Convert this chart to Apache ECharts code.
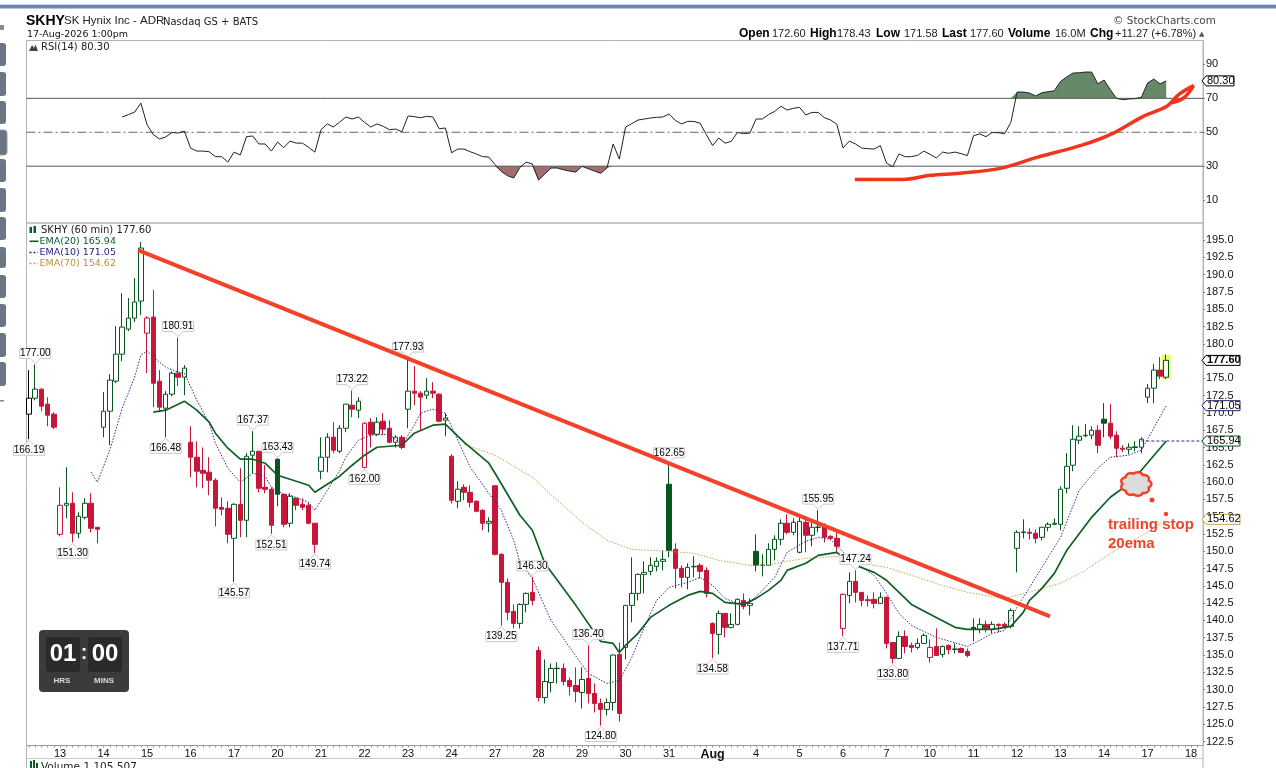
<!DOCTYPE html>
<html><head><meta charset="utf-8">
<style>html,body{margin:0;padding:0;background:#fff;overflow:hidden}#c{width:1276px;height:768px}</style>
<script src="https://cdn.jsdelivr.net/npm/echarts@6/dist/echarts.min.js"></script>
</head><body><div id="c"></div>
<script>
// ---- values ----
const opens=[169.82,172.13,173.44,171.27,169.82,152.45,156.65,156.94,152.6,154.91,156.94,153.47,167.94,170.25,174.59,178.5,182.12,183.71,186.17,181.54,183.86,174.59,170.69,172.71,175.75,175.17,165.77,163.6,161.71,161.43,160.27,156.36,156.22,151.87,156.79,154.48,163.89,164.46,159.25,158.96,163.31,158.24,154.05,157.66,156.79,156.65,154.05,161.57,163.6,166.49,164.46,167.79,171.12,170.4,162.1,168.66,166.92,168.81,167.79,165.77,166.49,170.54,173.15,172.86,172.57,173.15,172.71,168.95,163.74,157.23,159.25,158.53,157.23,155.93,154.05,159.47,149.56,145.51,141.31,139.57,142.32,144.06,135.66,128.86,131.03,133.02,133.06,131.32,130.6,129.59,131.61,129.44,128.0,127.13,128.14,135.09,136.1,142.18,143.91,146.66,147.1,147.82,148.55,159.69,150.28,147.53,146.23,147.75,147.97,147.24,139.57,137.98,141.02,139.0,139.43,142.9,142.18,149.99,147.95,147.97,150.28,151.73,154.05,152.74,149.85,154.19,152.31,153.44,153.61,152.16,151.87,138.85,143.62,145.65,144.06,143.0,143.05,142.47,143.34,136.82,134.51,137.69,136.39,136.1,136.68,134.65,136.24,135.09,136.39,135.8,135.95,135.52,139.0,138.71,139.43,138.71,139.43,139.43,139.14,150.43,152.72,152.74,152.6,152.02,153.47,153.9,153.9,159.11,162.44,166.06,166.7,166.78,167.5,169.1,168.52,166.78,164.9,164.75,165.0,165.04,172.28,173.58,176.19,175.17];
const closes=[172.13,173.44,170.98,169.67,167.94,156.65,156.94,152.6,155.06,156.94,153.32,153.18,170.25,174.74,178.5,182.41,183.71,186.03,193.84,183.71,174.3,170.83,172.71,175.75,175.17,176.48,163.6,161.57,161.28,160.27,156.22,156.07,152.45,156.79,154.48,163.74,164.46,159.11,158.96,153.76,158.24,153.9,157.95,156.65,156.36,154.05,151.0,163.6,166.49,164.61,167.79,171.27,170.54,171.7,168.52,166.92,168.66,167.65,165.77,166.49,165.0,173.15,172.86,172.28,173.15,172.86,168.81,169.24,157.37,158.97,158.53,157.08,155.78,154.05,154.33,149.56,145.51,141.17,139.57,142.32,143.91,142.9,128.86,131.18,133.06,133.1,131.18,130.46,129.73,131.47,129.44,128.0,127.13,128.14,135.0,126.55,142.18,143.91,146.66,146.95,147.97,148.55,148.83,150.14,147.53,146.23,147.68,147.82,147.1,143.91,138.13,141.02,139.0,139.43,143.05,142.03,142.47,147.97,148.02,150.28,151.73,154.05,152.74,154.19,154.33,152.31,153.47,153.5,152.02,151.87,150.72,143.77,145.65,144.06,142.9,142.85,142.47,143.34,136.68,134.51,137.69,136.24,136.1,136.68,137.84,136.1,134.94,136.24,135.81,135.88,135.38,134.94,138.71,139.43,138.85,139.43,139.28,139.14,141.45,152.74,152.8,152.6,151.87,153.47,153.9,154.05,158.97,162.29,166.2,166.64,166.78,167.5,165.33,168.52,166.64,164.9,164.75,165.04,165.1,166.2,173.58,176.19,175.32,177.6];
const lows=[166.19,171.85,170.25,168.08,167.65,152.16,154.77,151.3,151.87,154.62,152.74,151.15,166.49,165.33,174.3,177.49,181.83,183.13,184.15,175.75,170.83,170.11,166.48,172.42,173.87,172.57,160.7,159.25,159.11,158.1,153.61,155.2,151.15,145.57,152.02,152.02,161.28,158.53,158.39,152.51,156.51,153.47,153.47,155.93,155.93,153.9,149.74,160.41,161.43,164.18,164.18,167.21,169.38,169.24,162.0,165.0,166.64,166.78,165.62,165.0,164.75,167.79,171.12,167.5,171.99,172.13,168.66,166.64,156.94,156.22,157.37,156.36,155.64,153.03,152.74,149.41,139.25,140.01,138.85,138.85,141.17,142.18,128.28,128.0,129.59,130.89,130.6,129.15,128.14,127.27,128.0,126.69,124.8,126.26,126.98,125.39,134.36,139.72,142.9,143.91,146.52,147.1,147.24,149.12,144.64,144.78,144.49,146.23,146.08,143.34,134.58,135.09,137.55,138.85,139.28,141.6,140.73,147.1,146.38,147.97,148.69,150.86,152.45,152.31,149.7,149.85,150.72,152.74,151.29,151.58,149.85,137.71,142.47,142.61,142.03,142.03,141.74,142.47,135.95,133.8,134.51,135.23,135.38,135.81,136.68,133.93,134.94,134.65,135.09,135.23,135.3,134.65,136.97,138.13,138.27,138.13,138.27,138.85,138.85,146.95,151.87,151.73,151.15,151.58,152.89,153.76,153.03,158.39,161.57,165.48,166.49,166.2,164.18,166.49,166.2,163.6,164.32,164.03,164.46,164.18,171.41,171.41,174.88,174.88];
const highs=[176.19,177.0,173.58,172.28,170.11,159.25,162.15,158.53,155.64,157.66,158.39,153.47,173.0,175.61,182.55,187.33,186.61,189.5,194.71,184.0,187.76,176.19,173.15,176.04,180.91,176.91,168.08,165.91,165.0,163.6,160.56,157.81,157.23,156.94,162.0,164.18,167.37,164.46,162.44,159.25,163.43,158.24,158.39,157.81,157.66,157.08,154.05,166.49,167.07,168.66,168.23,171.27,173.22,172.28,168.66,169.24,169.38,169.96,168.95,166.78,166.78,177.93,176.77,173.15,175.03,174.45,172.86,169.96,164.03,160.12,159.69,159.54,157.37,156.07,154.91,159.54,149.7,146.08,142.32,142.47,144.06,146.3,136.24,134.36,133.78,133.93,133.78,131.76,133.21,133.21,136.4,130.89,128.72,128.72,135.09,136.82,142.18,149.12,146.81,148.55,149.12,149.12,150.14,162.65,151.15,147.97,148.26,149.27,148.26,147.68,139.72,141.45,141.02,141.02,143.19,143.91,143.19,152.45,149.56,151.15,152.31,154.62,155.35,154.77,155.06,154.77,154.19,155.95,154.05,152.31,152.74,143.91,146.95,147.24,144.06,143.62,144.06,144.06,143.48,136.82,138.42,138.56,136.82,137.4,138.13,137.26,138.85,136.39,136.53,136.68,136.1,135.95,140.3,140.3,140.01,139.86,139.57,139.72,141.74,153.03,154.62,153.32,153.18,153.47,154.19,154.77,159.4,164.18,168.23,168.08,168.37,168.08,168.23,171.41,171.27,167.36,165.33,165.62,165.91,166.49,174.16,177.06,178.07,178.43];
const ema20Bars=[20,22,25,27,29,30,32,34,36,38,40,42,45,46,48,50,52,54,56,60,62,65,67,70,74,75,79,81,83,88,91,92,94,95,96,98,100,103,106,108,110,112,115,117,119,121,122,125,127,130,131,133,136,138,140,142,146,149,151,155,158,160,161,163,165,167,171,174,176,179,183];
const ema20Vals=[170.11,170.4,171.7,170.4,168.66,167.07,164.9,163.31,163.31,162.73,160.99,160.41,159.54,158.53,159.69,160.85,162.44,163.89,165.04,165.33,167.07,168.23,168.37,165.77,162.73,161.28,155.2,153.03,148.26,142.18,138.27,136.97,136.68,135.38,136.39,138.13,140.44,142.18,143.62,144.2,143.91,142.61,142.32,143.19,144.35,145.8,147.24,148.26,149.41,149.85,149.12,147.97,146.95,145.8,144.06,142.32,140.44,139.0,138.71,138.71,139.14,141.17,142.9,144.64,146.81,150.14,154.91,157.81,159.11,161.71,165.94];
const ema10Bars=[10,11,13,15,17,18,19,21,22,24,25,27,29,30,32,34,36,38,39,41,42,45,46,48,50,51,53,55,58,60,62,63,65,67,69,71,74,76,78,79,81,84,87,90,93,95,97,99,101,103,106,108,110,112,114,116,118,120,122,125,127,129,132,136,138,140,142,146,151,153,155,157,159,161,163,166,169,171,172,174,177,179,183];
const ema10Vals=[161.43,159.98,164.61,170.69,175.17,178.36,178.94,177.34,176.62,175.9,175.75,171.85,168.52,165.62,162.0,159.98,161.28,160.85,159.25,158.24,158.1,157.08,155.93,158.82,161.71,163.6,166.06,166.78,166.92,165.33,168.23,169.96,170.54,169.96,166.06,162.15,158.39,155.93,151.58,148.4,146.08,140.01,136.1,132.34,130.89,131.32,134.65,139.0,142.9,144.78,145.51,146.23,145.07,143.19,142.47,142.61,144.35,146.23,149.85,151.44,152.02,151.73,148.98,146.52,143.91,141.02,139.28,137.55,136.24,137.11,138.13,138.56,141.89,144.78,147.68,152.02,158.82,160.99,162.0,163.6,163.89,164.61,171.05];
const ema70Bars=[70,75,81,85,89,93,97,103,107,111,116,119,121,125,130,134,138,142,147,151,154,157,159,163,166,170,174,180,183];
const ema70Vals=[165.48,163.89,160.7,157.37,154.19,151.58,150.28,149.99,149.7,148.69,147.97,147.97,148.4,148.98,149.27,148.26,147.68,146.52,145.07,144.06,143.62,143.19,143.62,144.64,145.36,147.24,149.7,152.74,154.62];
const rsiStartBar=15;
const rsiVals=[59.0,60.4,61.9,67.2,54.5,48.6,46.0,47.2,49.9,49.5,50.7,40.7,38.9,38.9,38.5,35.6,35.6,32.4,38.3,36.6,47.4,47.8,43.1,43.1,38.9,44.2,40.9,44.8,43.6,43.6,41.1,38.3,51.5,54.9,53.1,56.0,59.0,57.8,59.0,55.8,53.1,54.9,53.5,51.5,51.9,50.3,59.6,59.2,58.6,59.4,59.0,52.1,52.5,37.9,40.1,40.1,38.5,37.2,35.6,35.4,30.9,26.9,24.4,23.0,29.3,32.4,31.3,21.8,25.4,28.9,28.9,27.9,27.1,26.5,29.9,28.5,27.1,25.8,28.9,43.1,34.2,53.1,55.1,57.2,57.8,58.4,58.8,59.0,60.8,57.0,54.9,56.4,56.4,55.3,48.6,42.1,46.6,43.6,44.6,49.9,49.2,49.5,57.8,57.8,60.4,62.3,65.3,63.1,64.1,64.7,60.2,61.7,61.7,58.6,57.2,54.7,40.7,44.8,43.1,40.7,40.3,40.1,42.1,31.8,29.7,37.2,35.6,35.6,36.4,38.9,37.0,34.8,38.3,37.6,38.3,37.4,36.2,48.0,49.0,47.4,49.9,49.7,49.2,55.8,73.7,73.7,73.1,71.4,73.3,73.9,74.5,80.0,82.6,84.9,85.1,85.5,85.5,78.5,80.8,75.1,70.0,69.2,69.6,69.8,70.6,79.0,81.4,78.5,80.3];
const highLabelBars=[1,24,36,40,52,61,81,90,103,127,133];
const lowLabelBars=[0,7,22,33,39,46,54,76,92,110,131,139];
const dayNames=['13','14','15','16','17','20','21','22','23','24','27','28','29','30','31','Aug','4','5','6','7','10','11','12','13','14','17','18'];
const priceTicks=[122.5,125,127.5,130,132.5,135,137.5,140,142.5,145,147.5,150,152.5,155,157.5,160,162.5,165,167.5,170,172.5,175,177.5,180,182.5,185,187.5,190,192.5,195];
const rsiTicks=[10,30,50,70,90];
const trendBars=[17.54,164.3], trendVals=[193.55,140.59];
const handBars=[132.9,140.7,145,149.8,156.3,162.2,169.7,174.5,179.3,183.1,185,187.4,185.8,183.6];
const handVals=[22.2,22.2,24.6,25.9,28.7,35.2,42.7,49.5,59.4,65.3,72.2,77.5,70.2,67.2];
const firstDayBar=5, barsPerDay=7;

// ---- layout ----
const L=26.5,R=1203,X0=-0.402,X1=188.92;
const GREEN='#07561f',RED='#c8163a',GRID='#b4b4b4',F='"Liberation Sans"',D='"DejaVu Sans"';
const n=opens.length;
const candles=opens.map((o,i)=>{
  const c=closes[i],col=i===0?'#000':(c>=closes[i-1]?GREEN:RED);
  const fill=c>o?'#fff':col;
  return {value:[i,o,c,lows[i],highs[i]],itemStyle:{color:fill,color0:fill,borderColor:col,borderColor0:col,borderColorDoji:col,borderWidth:1}};
});
const zip=(a,b)=>a.map((x,i)=>[x,b[i]]);
const rsi=rsiVals.map((v,i)=>[rsiStartBar+i,v]);
const dayTicks=dayNames.map((_,k)=>firstDayBar+k*barsPerDay);
const allBars=[];for(let i=0;i<189;i++)allBars.push(i);
const lineS=(name,x,y,data,color,width,type,z,extra)=>Object.assign({name,type:'line',xAxisIndex:x,yAxisIndex:y,data,symbol:'none',silent:true,z:z||3,
  lineStyle:{color,width,type:type||'solid'},animation:false},extra||{});
const xAxisBase=(i,show)=>({type:'value',gridIndex:i,min:X0,max:X1,splitLine:{show:false},
  axisLine:{show:show,onZero:false,lineStyle:{color:'#999',type:'dotted'}},
  axisTick:{show:show,length:2,inside:false,customValues:allBars,lineStyle:{color:'#999'}},
  axisLabel:{show:show,customValues:dayTicks,margin:3,fontFamily:F,fontSize:11,color:'#111',
    formatter:v=>{const s=dayNames[(v-firstDayBar)/barsPerDay];return s==='Aug'?'{b|Aug}':s;},
    rich:{b:{fontFamily:F,fontSize:12.5,fontWeight:'bold',color:'#111'}}}});
const yAxisBase=(i,min,max,ticks,fmt)=>({type:'value',gridIndex:i,position:'right',min,max,scale:true,splitLine:{show:false},
  axisLine:{show:true,onZero:false,lineStyle:{color:GRID}},
  axisTick:{show:true,length:2,customValues:ticks,lineStyle:{color:'#888'}},
  axisLabel:{customValues:ticks,margin:3,fontFamily:F,fontSize:11,color:'#111',formatter:fmt}});

const renderLabel=(params,api)=>{
  const i=api.value(0),p=api.coord([i,api.value(1)]),dir=api.value(2);
  const w=31,h=10,gap=5,cx=p[0],ax=p[1]-dir*1;
  const near=ax-dir*gap,far=near-dir*h;
  const pts=[[cx,ax],[cx+5,near],[cx+w/2,near],[cx+w/2,far],[cx-w/2,far],[cx-w/2,near],[cx-5,near]];
  return {type:'group',children:[
    {type:'polygon',shape:{points:pts},style:{fill:'#fff',stroke:'#c9c9c9',lineWidth:1}},
    {type:'text',style:{text:api.value(1).toFixed(2),x:cx,y:(near+far)/2,align:'center',verticalAlign:'middle',font:'10px '+F,fill:'#000'}}
  ]};
};
const labelData=highLabelBars.map(i=>[i,highs[i],1]).concat(lowLabelBars.map(i=>[i,lows[i],-1]));
const renderTag=(params,api)=>{
  const p=api.coord([X1,api.value(0)]),col=api.value(1),b=api.value(2),w=api.value(3);
  const x=R-1,y=p[1];
  return {type:'group',children:[
    {type:'polygon',shape:{points:[[x,y],[x+4,y-5],[x+w,y-5],[x+w,y+5],[x+4,y+5]]},style:{fill:'#fff',stroke:col,lineWidth:1}},
    {type:'text',style:{text:api.value(0).toFixed(2),x:x+5,y:y,align:'left',verticalAlign:'middle',font:(b?'bold ':'')+'11px '+F,fill:'#000'}}
  ]};
};
const tagSeries=(x,y,data)=>({type:'custom',xAxisIndex:x,yAxisIndex:y,data,dimensions:[{type:'number'},{type:'ordinal'},{type:'number'},{type:'number'}],encode:{y:0},renderItem:(p,api)=>{
    const row=data[p.dataIndex],c=api.coord([X1,row[0]]),xx=R-1,yy=c[1],w=row[3];
    return {type:'group',children:[
      {type:'polygon',shape:{points:[[xx,yy],[xx+4,yy-5],[xx+w,yy-5],[xx+w,yy+5],[xx+4,yy+5]]},style:{fill:'#fff',stroke:row[1],lineWidth:1}},
      {type:'text',style:{text:row[0].toFixed(2),x:xx+5,y:yy,align:'left',verticalAlign:'middle',font:(row[2]?'bold ':'')+'11px '+F,fill:'#000'}}]};
  },clip:false,silent:true,z:12,animation:false});

// ---- decorative page furniture ----
const t=(text,x,y,font,fill,align)=>({type:'text',silent:true,style:{text,x,y,font,fill:fill||'#000',align:align||'left',verticalAlign:'middle'}});
const r=(x,y,w,h,fill,rad,extra)=>({type:'rect',silent:true,shape:{x,y,width:w,height:h,r:rad||0},style:Object.assign({fill},extra||{})});
const ln=(x1,y1,x2,y2,stroke,w,dash)=>({type:'line',silent:true,shape:{x1,y1,x2,y2},style:{stroke,lineWidth:w||1,lineDash:dash}});
const cloud=[];for(let a=0;a<72;a++){const th=a/72*Math.PI*2,k=1+0.14*Math.abs(Math.cos(th*4.5));cloud.push([1136+13.5*k*Math.cos(th),484+10.5*k*Math.sin(th)]);}
const graphic=[
  r(0,4,1276,1,'#c8d2e8'),r(0,5,1276,3.5,'#7083b5'),
  t('SKHY',26,21,'bold 14px '+F),t('SK Hynix Inc - ADR',64,21,'11.5px '+F,'#222'),t('Nasdaq GS + BATS',163,22,'10px '+D,'#222'),
  t('17-Aug-2026 1:00pm',27,35,'9.5px '+D,'#111'),
  t('Open',739,34,'bold 12px '+F),t('172.60',772,34,'11px '+F,'#222'),t('High',810,34,'bold 12px '+F),t('178.43',837,34,'11px '+F,'#222'),
  t('Low',876,34,'bold 12px '+F),t('171.58',904,34,'11px '+F,'#222'),t('Last',942,34,'bold 12px '+F),t('177.60',970,34,'11px '+F,'#222'),
  t('Volume',1008,34,'bold 12px '+F),t('16.0M',1055,34,'11px '+F,'#222'),t('Chg',1090,34,'bold 12px '+F),t('+11.27 (+6.78%)',1115,34,'11px '+F,'#222'),
  t('▲',1199,34.5,'7px '+D,'#555'),t('© StockCharts.com',1113,21,'10.5px '+D,'#444'),
  t('RSI(14) 80.30',41,47,'10px '+D,'#222'),
  {type:'polygon',silent:true,shape:{points:[[29,51],[32,45],[34,48],[35.5,44.5],[38,51]]},style:{fill:'#444'}},
  r(29.5,227,2.5,6,'#0b5a24'),r(33.5,226,2.5,7,'#0b5a24'),
  t('SKHY (60 min) 177.60',41,230,'10px '+D,'#222'),
  r(29.5,240.5,9,1.5,'#0b5a24'),t('EMA(20) 165.94',39.5,241.5,'9.5px '+D,'#0b5a24'),
  ln(29.5,252.5,38,252.5,'#222288',1.5,[2,2]),t('EMA(10) 171.05',39.5,252.5,'9.5px '+D,'#1c1c80'),
  ln(29.5,263.5,38,263.5,'#c9a24d',1.5,[2,2]),t('EMA(70) 154.62',39.5,263.5,'9.5px '+D,'#b8923c'),
  // tick strip bottom and volume panel peek
  ln(L,758.5,R,758.5,'#999',1,[1,1]),ln(L,745,L,768,GRID),ln(R,745,R,768,GRID),
  r(30,761,2,7,'#0b5a24'),r(33,760,2,8,'#0b5a24'),r(36,763,2,5,'#0b5a24'),
  t('Volume 1,105,507',41,767,'10.5px '+D,'#222'),
  // left toolbar
  ...[[43,23],[72,24],[101,23],[159,23],[188,24],[217,23],[247,21],[275,23],[304,23],[333,24],[362,24]].map(a=>r(-4,a[0],10,a[1],'#6b7586',3)),
  r(-4,130,11,25,'#6b7586',3,{stroke:'#999',lineWidth:1}),
  r(0,400,4,1.5,'#888'),r(0,25,4,5,'#888',1),
  // clock widget
  r(39,630,90,62,'#3b3b3b',4),r(46,637,34,35,'#2a2a2a',2),r(88,637,34,35,'#2a2a2a',2),
  t('01',63,654,'bold 24px '+F,'#fff','center'),t('00',105,654,'bold 24px '+F,'#fff','center'),t(':',84,653,'bold 20px '+F,'#eee','center'),
  t('HRS',62,681,'bold 8px '+F,'#ddd','center'),t('MINS',104,681,'bold 8px '+F,'#ddd','center'),
  // hand annotations
  {type:'polygon',silent:true,shape:{points:cloud},z:20,style:{fill:'#dcdcdc',stroke:'#f0442a',lineWidth:2.5}},
  {type:'circle',silent:true,z:20,shape:{cx:1152,cy:500,r:2.5},style:{fill:'#f0442a'}},
  {type:'circle',silent:true,z:20,shape:{cx:1166,cy:514,r:2.2},style:{fill:'#f0442a'}},
  Object.assign(t('trailing stop',1108,525,'bold 15px '+F,'#f0442a'),{z:20}),
  Object.assign(t('20ema',1108,544,'bold 15px '+F,'#f0442a'),{z:20})
];

const chart=echarts.init(document.getElementById('c'),null,{renderer:'canvas'});
chart.setOption({
  animation:false,backgroundColor:'#fff',
  grid:[
    {left:L,top:40.5,width:R-L,height:182.5,show:true,borderColor:GRID,borderWidth:1},
    {left:L,top:223,width:R-L,height:522.5,show:true,borderColor:GRID,borderWidth:1}
  ],
  xAxis:[xAxisBase(0,false),xAxisBase(1,true)],
  yAxis:[
    yAxisBase(0,-3.5,104.1,rsiTicks,v=>String(v)),
    yAxisBase(1,121.92,197.46,priceTicks,v=>v.toFixed(1))
  ],
  graphic,
  series:[
    // RSI panel
    lineS('rsiOver',0,0,rsi.map(a=>[a[0],Math.max(a[1],70)]),'transparent',0,'solid',2,{areaStyle:{origin:70,color:'#66896a',opacity:1},lineStyle:{width:0,opacity:0}}),
    lineS('rsiUnder',0,0,rsi.map(a=>[a[0],Math.min(a[1],30)]),'transparent',0,'solid',2,{areaStyle:{origin:30,color:'#a06e6e',opacity:1},lineStyle:{width:0,opacity:0}}),
    lineS('r70',0,0,[[X0,70],[X1,70]],'#555',1,'solid',2),
    lineS('r30',0,0,[[X0,30],[X1,30]],'#555',1,'solid',2),
    lineS('r50',0,0,[[X0,50],[X1,50]],'#666',1,[9,3,2,3],2),
    lineS('RSI',0,0,rsi,'#222',1,'solid',3),
    lineS('handCurve',0,0,zip(handBars,handVals),'#f0351f',3.5,'solid',6,{smooth:0.35}),
    tagSeries(0,0,[[80.30,'#000',0,32]]),
    // price panel
    {type:'custom',name:'lastBarHi',xAxisIndex:1,yAxisIndex:1,data:[[183,178.43,174.88]],encode:{x:0,y:[1,2]},silent:true,z:1,animation:false,
      renderItem:(p,api)=>{const a=api.coord([183,api.value(1)]),b=api.coord([183,api.value(2)]);
        return {type:'rect',shape:{x:a[0]-4.5,y:a[1],width:9,height:b[1]-a[1]},style:{fill:'#eef56a'}};}},
    {type:'candlestick',name:'SKHY',xAxisIndex:1,yAxisIndex:1,data:candles,barWidth:5,silent:true,z:2,animation:false,clip:false},
    lineS('EMA70',1,1,zip(ema70Bars,ema70Vals),'#c9a24d',1,[1.5,1.5],3),
    lineS('EMA10',1,1,zip(ema10Bars,ema10Vals),'#2c2c88',1,[1.5,1.5],3),
    lineS('EMA20',1,1,zip(ema20Bars,ema20Vals),'#0f5f24',1.7,'solid',3),
    lineS('ema20Last',1,1,[[179,165.94],[X1,165.94]],'#2c2c88',1,[3,2],3),
    {type:'custom',name:'labels',xAxisIndex:1,yAxisIndex:1,data:labelData,encode:{x:0,y:1},renderItem:renderLabel,silent:true,z:4,animation:false,clip:false},
    lineS('trend',1,1,zip(trendBars,trendVals),'#f4412a',4,'solid',6),
    tagSeries(1,1,[[177.60,'#000',1,38],[171.05,'#22226a',0,38],[165.94,'#0d5a23',0,38],[154.62,'#c9a24d',0,38]])
  ]
});
</script></body></html>
